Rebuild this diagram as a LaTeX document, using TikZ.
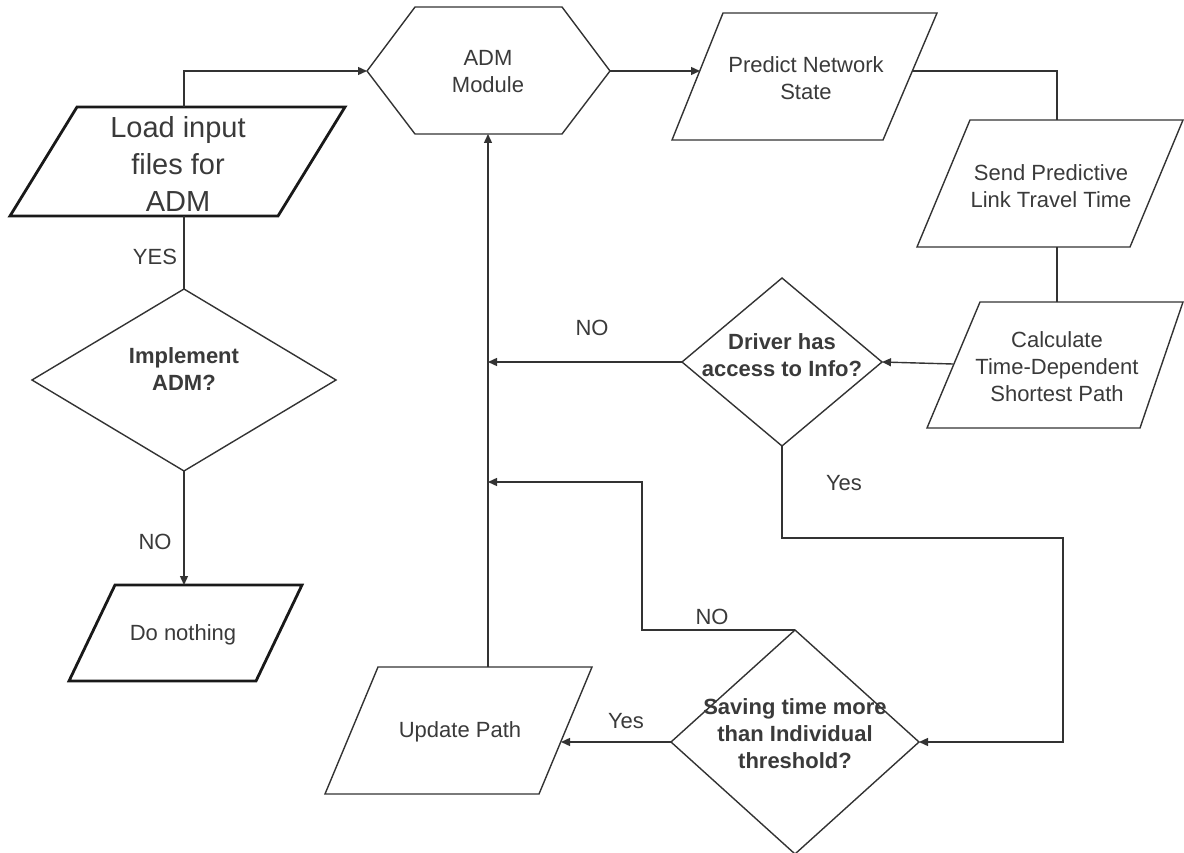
\documentclass[tikz,border=0pt]{standalone}
\usepackage{fontspec}
\setmainfont{Liberation Sans}
\usetikzlibrary{arrows.meta}
\definecolor{ink}{HTML}{333333}
\definecolor{txtc}{HTML}{3A3A3A}
\begin{document}
\begin{tikzpicture}[x=1pt,y=-1pt,
  shapeline/.style={draw=ink,line width=1.4pt,line join=miter},
  thickshape/.style={draw=black!90,line width=2.8pt,line join=miter},
  conn/.style={draw=ink,line width=1.4pt},
  arr/.style={conn,-{Triangle[length=9pt,width=8pt]}},
  lbl/.style={text=txtc,font=\fontsize{22}{27}\selectfont,align=center,inner sep=0pt},
  blbl/.style={lbl,font=\fontsize{22}{27}\selectfont\bfseries},
  big/.style={lbl,font=\fontsize{29}{37}\selectfont}]
\useasboundingbox (0,0) rectangle (1184,853);

% shapes
\draw[thickshape] (77,107) -- (345,107) -- (278,216) -- (10,216) -- cycle;
\node[big] (load) at (178,164) {Load input\\files for\\ADM};

\draw[shapeline] (367,71) -- (415,7) -- (562,7) -- (610,71) -- (562,134) -- (415,134) -- cycle;
\node[lbl] (adm) at (488,72) {ADM\\Module};

\draw[shapeline] (723,13) -- (937,13) -- (883,140) -- (672,140) -- cycle;
\node[lbl] (pred) at (806,78) {Predict Network\\State};

\draw[shapeline] (970,120) -- (1183,120) -- (1130,247) -- (917,247) -- cycle;
\node[lbl] (send) at (1051,186) {Send Predictive\\Link Travel Time};

\draw[shapeline] (980,302) -- (1183,302) -- (1140,428) -- (927,428) -- cycle;
\node[lbl] (calc) at (1057,367) {Calculate\\Time-Dependent\\Shortest Path};

\draw[shapeline] (782,278) -- (882,362) -- (782,446) -- (682,362) -- cycle;
\node[blbl] (drv) at (782,355) {Driver has\\access to Info?};

\draw[shapeline] (184,289) -- (336,380) -- (184,471) -- (32,380) -- cycle;
\node[blbl] (impl) at (184,369) {Implement\\ADM?};

\draw[thickshape] (115,585) -- (302,585) -- (256,681) -- (69,681) -- cycle;
\node[lbl] (nothing) at (183,635) {Do nothing};

\draw[shapeline] (378,667) -- (592,667) -- (539,794) -- (325,794) -- cycle;
\node[lbl] (upd) at (460,732) {Update Path};

\draw[shapeline] (795,630) -- (919,742) -- (795,854) -- (671,742) -- cycle;
\node[blbl] (sav) at (795,734) {Saving time more\\than Individual\\threshold?};

% connection points
\coordinate (load-n) at (184,107);
\coordinate (load-s) at (184,216);
\coordinate (adm-w) at (367,71);
\coordinate (adm-e) at (610,71);
\coordinate (adm-s) at (488,134);
\coordinate (pred-w) at (700,71);
\coordinate (pred-e) at (913,71);
\coordinate (send-n) at (1057,120);
\coordinate (send-s) at (1057,247);
\coordinate (calc-n) at (1057,302);
\coordinate (calc-w) at (953,364);
\coordinate (drv-e) at (882,362);
\coordinate (drv-w) at (682,362);
\coordinate (drv-s) at (782,446);
\coordinate (impl-n) at (184,289);
\coordinate (impl-s) at (184,471);
\coordinate (nothing-n) at (184,585);
\coordinate (upd-n) at (488,667);
\coordinate (upd-e) at (561,742);
\coordinate (sav-n) at (795,630);
\coordinate (sav-e) at (919,742);
\coordinate (sav-w) at (671,742);
\coordinate (loop-a) at (488,362);
\coordinate (loop-b) at (488,482);
\coordinate (yes-corner) at (1063,538);
\coordinate (no-corner) at (642,482);

% connectors
\draw[arr] (load-n) |- (adm-w);
\draw[arr] (adm-e) -- (pred-w);
\draw[conn] (pred-e) -| (send-n);
\draw[conn] (send-s) -- (calc-n);
\draw[arr] (calc-w) -- (drv-e);
\draw[arr] (drv-w) -- (loop-a);
\draw[arr] (upd-n) -- (adm-s);
\draw[arr] (drv-s) |- (yes-corner) |- (sav-e);
\draw[arr] (sav-n) -| (no-corner) -- (loop-b);
\draw[arr] (sav-w) -- (upd-e);
\draw[arr] (impl-s) -- (nothing-n);
\draw[conn] (load-s) -- (impl-n);

% labels
\node[lbl] (l-yes1) at (155,257) {YES};
\node[lbl] (l-no1) at (155,542) {NO};
\node[lbl] (l-no2) at (592,328) {NO};
\node[lbl] (l-yes2) at (844,483) {Yes};
\node[lbl] (l-no3) at (712,617) {NO};
\node[lbl] (l-yes3) at (626,721) {Yes};
\end{tikzpicture}
\end{document}
